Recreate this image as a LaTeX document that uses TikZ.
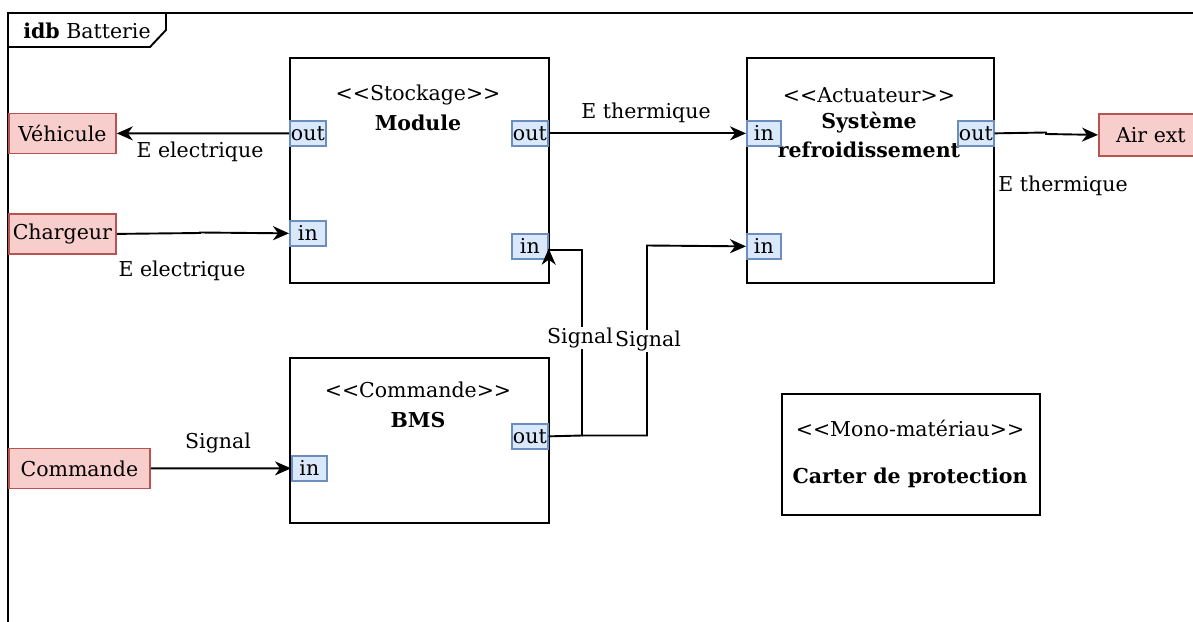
\documentclass[tikz,border=0pt]{standalone}
\usepackage{fontspec}
\setmainfont[Ligatures=TeXOff]{DejaVu Serif}
\usetikzlibrary{arrows.meta,calc}
\definecolor{redfill}{HTML}{F8CECC}
\definecolor{redline}{HTML}{B85450}
\definecolor{portfill}{HTML}{DAE8FC}
\definecolor{portline}{HTML}{6C8EBF}
\begin{document}
\begin{tikzpicture}[x=1pt,y=-1pt,
  font=\fontsize{20.5}{24}\selectfont,
  every node/.style={inner sep=1pt},
  ext/.style={draw=redline, fill=redfill, line width=1.8pt, minimum height=40pt, inner sep=0pt, anchor=north west},
  blockbox/.style={draw, line width=1.9pt, anchor=north west, inner sep=0pt},
  port/.style={draw=portline, fill=portfill, line width=1.7pt, minimum width=36pt, minimum height=25pt, inner sep=0pt, anchor=north west},
  conn/.style={line width=1.9pt},
  arr/.style={conn, -{Stealth[length=16pt,width=14pt,inset=5pt]}},
  lbl/.style={inner sep=1pt},
  wlbl/.style={fill=white, inner sep=1pt}
]
\useasboundingbox (0,0) rectangle (1193,621);
% frame
\draw[line width=1.9pt] (1200,13) -- (8,13) -- (8,630);
\draw[line width=1.9pt] (8,47) -- (150,47) -- (166,30) -- (166,13);
\node[lbl] (title) at (87,31) {\textbf{idb} Batterie};

% blocks
\node[blockbox, minimum width=259pt, minimum height=225pt] (module) at (289,57) {};
\node[lbl] (modst) at (418,95) {<<Stockage>>};
\node[lbl] (modnm) at (418,123) {\textbf{Module}};

\node[blockbox, minimum width=247pt, minimum height=225pt] (sys) at (746,57) {};
\node[lbl] (sysst) at (869,95) {<<Actuateur>>};
\node[lbl] (sysnm1) at (869,123) {\textbf{Système}};
\node[lbl] (sysnm2) at (869,150) {\textbf{refroidissement}};

\node[blockbox, minimum width=259pt, minimum height=165pt] (bms) at (289,357) {};
\node[lbl] (bmsst) at (418,390) {<<Commande>>};
\node[lbl] (bmsnm) at (418,420) {\textbf{BMS}};

\node[blockbox, minimum width=258pt, minimum height=121pt] (carter) at (781,393) {};
\node[lbl] (carst) at (910,428) {<<Mono-matériau>>};
\node[lbl] (carnm) at (910,478) {\textbf{Carter de protection}};

% ports
\node[port] (mo1) at (289,120) {out};
\node[port] (mi1) at (289,220) {in};
\node[port] (mo2) at (511,120) {out};
\node[port] (mi2) at (511,233) {in};
\node[port, minimum width=34pt] (si1) at (746,120) {in};
\node[port, minimum width=34pt] (si2) at (746,233) {in};
\node[port] (so1) at (957,120) {out};
\node[port] (bo) at (511,423) {out};
\node[port, minimum width=35pt] (bi) at (291,455) {in};

% external
\node[ext, minimum width=107pt] (veh) at (8,112.5) {Véhicule};
\node[ext, minimum width=107pt] (charg) at (8,213) {Chargeur};
\node[ext, minimum width=141pt] (cmd) at (8,447.5) {Commande};
\node[ext, minimum width=104pt, minimum height=42pt] (air) at (1098,113) {Air ext};

% connectors
\draw[arr] (mo1.west) -- (veh.east);
\node[lbl] (l1) at (200,152) {E electrique};
\draw[arr] (charg.east) -- (200,233) -- (200,232.5) -- (mi1.west);
\node[lbl] (l2) at (182,271) {E electrique};
\draw[arr] (mo2.east) -- (si1.west);
\node[lbl] (l3) at (646,113) {E thermique};
\draw[arr] (so1.east) -- (1046,132.5) -- (1046,134) -- (air.west);
\node[lbl] (l4) at (1063,186) {E thermique};

\coordinate (br) at (582,435.5);
\draw[conn] (bo.east) -- (br) -- (582,250) -- (548,250);
\draw[arr] ($(mi2.south east)+(0,3)$) -- ($(mi2.south east)+(0,-11)$);
\draw[arr] (br) -- (647,435.5) -- (647,245.5) -- (si2.west);
\node[wlbl] (s1) at (580,338) {Signal};
\node[wlbl] (s2) at (648,341) {Signal};

\draw[arr] (cmd.east) -- (bi.west);
\node[lbl] (l5) at (218,443) {Signal};
\end{tikzpicture}
\end{document}
